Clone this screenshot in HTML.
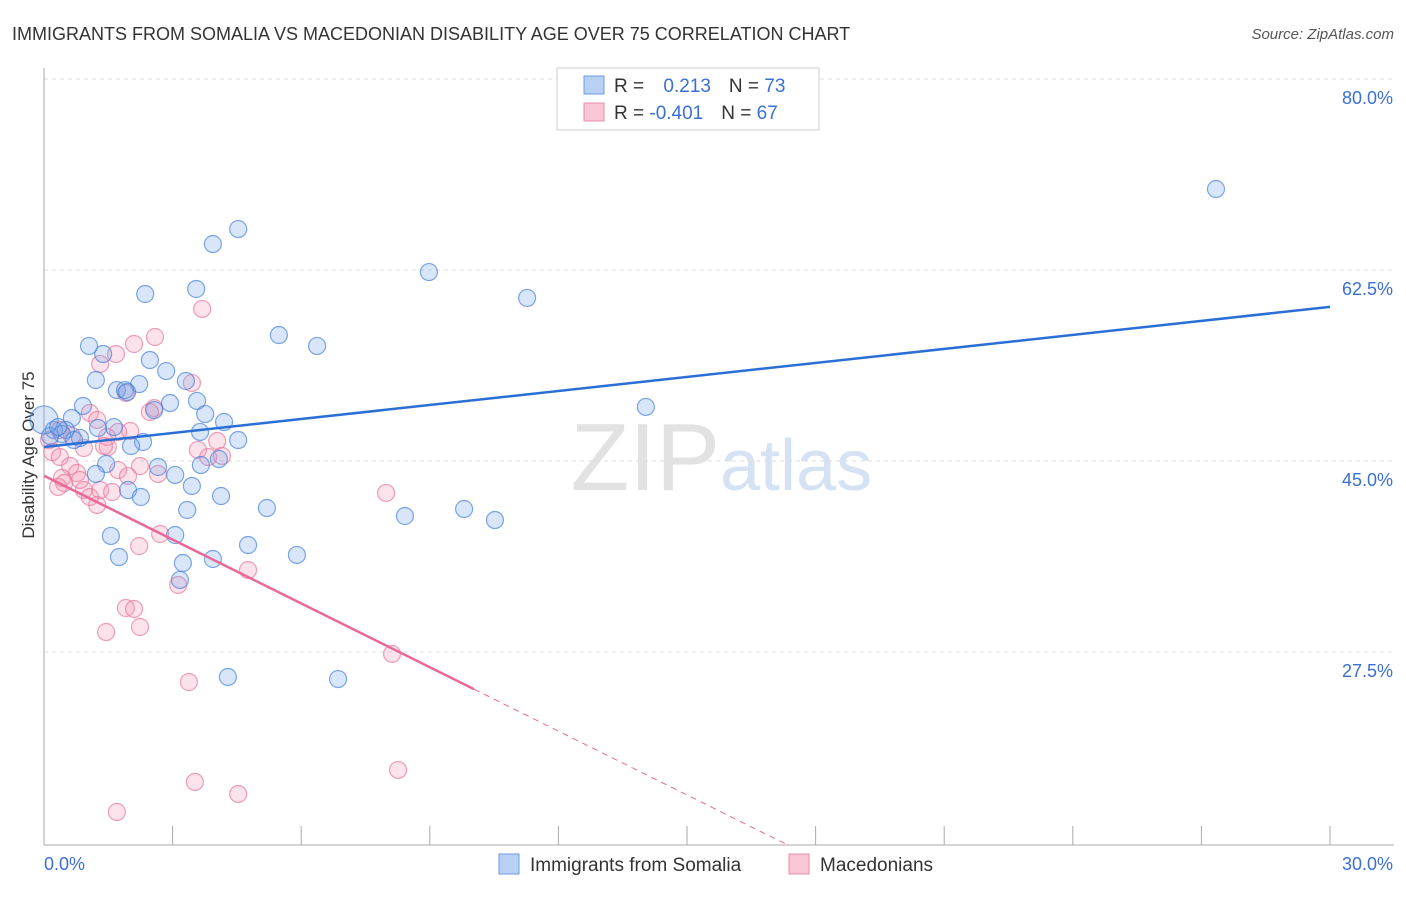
<!DOCTYPE html>
<html><head><meta charset="utf-8"><style>
body{margin:0;background:#fff;font-family:"Liberation Sans",sans-serif;}
svg text{font-family:"Liberation Sans",sans-serif;}
</style></head><body>
<svg id="chart" width="1406" height="892">
<text x="12" y="40" font-size="18" fill="#333">IMMIGRANTS FROM SOMALIA VS MACEDONIAN DISABILITY AGE OVER 75 CORRELATION CHART</text>
<text x="1394" y="39" font-size="15" fill="#555" font-style="italic" text-anchor="end">Source: ZipAtlas.com</text>
<text x="720" y="490" font-size="96" fill="#e2e2e2" text-anchor="end" font-family="Liberation Serif">ZIP</text>
<text x="720" y="490" font-size="72" fill="#d5e2f3">atlas</text>
<text x="34" y="455" font-size="17" fill="#333" text-anchor="middle" transform="rotate(-90 34 455)">Disability Age Over 75</text>
<g id="grid"></g><g id="axes"></g><g id="pts"></g><g id="trend"></g>
<g>
<rect x="557" y="68" width="262" height="62" fill="#fff" stroke="#ccc"/>
<rect x="584" y="76" width="20" height="18" fill="#b8d0f4" stroke="#6a9be0"/>
<rect x="584" y="103" width="20" height="18" fill="#f9c6d6" stroke="#ea8fad"/>
<text x="614" y="92" font-size="19" fill="#333">R = <tspan fill="#3a6fd8" dx="14">0.213</tspan><tspan dx="18">N = </tspan><tspan fill="#3a6fd8">73</tspan></text>
<text x="614" y="119" font-size="19" fill="#333">R = <tspan fill="#3a6fd8">-0.401</tspan><tspan dx="18">N = </tspan><tspan fill="#3a6fd8">67</tspan></text>
</g>
<g>
<rect x="499" y="854" width="20" height="20" fill="#b8d0f4" stroke="#6a9be0"/>
<text x="530" y="871" font-size="19" fill="#333">Immigrants from Somalia</text>
<rect x="789" y="854" width="20" height="20" fill="#f9c6d6" stroke="#ea8fad"/>
<text x="820" y="871" font-size="19" fill="#333">Macedonians</text>
</g>
</svg>
<script>
const blueX=[27.34,4.53,3.94,8.98,3.55,2.36,11.27,5.48,6.37,1.05,1.38,2.47,2.85,1.21,3.31,2.22,1.70,1.89,1.94,2.94,0.91,3.57,14.04,2.57,3.76,0.65,4.20,1.63,1.26,0.51,0.23,0.42,0.14,3.64,4.53,2.31,2.03,0.84,0.70,2.66,1.45,3.06,1.21,4.08,3.66,3.45,1.96,2.26,4.13,5.20,8.42,9.80,10.52,3.34,1.56,3.06,5.90,4.76,1.75,3.94,3.24,3.17,4.29,6.86,0.0,0.33];
const blueY=[71.57,67.90,66.53,63.96,62.41,61.95,61.59,58.19,57.19,57.19,56.45,55.90,54.89,54.07,53.98,53.70,53.15,53.15,52.97,51.96,51.69,52.15,51.60,51.32,50.95,50.59,50.22,49.76,49.67,49.49,49.49,49.12,48.94,49.31,48.57,48.39,48.02,48.76,48.57,46.10,46.37,45.37,45.46,46.83,46.28,44.36,43.99,43.35,43.44,42.34,41.61,42.25,41.24,42.16,39.78,39.87,38.04,38.95,37.85,37.67,37.30,35.75,26.86,26.67,50.41,49.76];
const pinkX=[2.59,2.10,1.68,1.31,3.69,3.45,1.91,2.57,1.07,1.24,1.73,1.47,0.37,0.12,0.19,0.37,0.61,0.93,1.49,1.73,2.24,0.77,0.42,0.47,0.33,0.93,1.31,1.59,1.24,1.07,0.84,2.01,4.04,3.59,3.83,4.15,2.66,2.71,2.22,7.98,4.76,3.13,1.91,2.10,2.24,1.45,8.12,3.38,3.52,4.53,8.26,1.70,2.47,1.40,1.96,0.65];
const pinkY=[58.01,57.37,56.45,55.54,60.58,53.80,52.88,51.50,51.05,50.41,49.31,48.85,49.49,48.57,47.47,47.01,46.19,47.84,47.93,45.82,46.19,45.55,45.09,44.63,44.27,43.99,43.99,43.81,42.62,43.35,44.91,49.40,48.48,47.66,47.01,47.11,45.46,39.96,38.86,43.72,36.66,35.29,33.18,33.09,31.44,30.98,28.97,26.40,17.24,16.14,18.34,14.49,51.14,48.02,45.27,48.94];
const yTicks=[80,62.5,45,27.5];
const yTickLabels=["80.0%","62.5%","45.0%","27.5%"];
const xTicks=[0,3,6,9,12,15,18,21,24,27,30];
const blueTrend=[47.93,0.428]; // intercept, slope
const pinkTrend=[45.3,-1.95];
const X=v=>44+v*42.867, Y=v=>97+(80-v)*10.914;
const NS="http://www.w3.org/2000/svg";
function mk(p,tag,at){const e=document.createElementNS(NS,tag);for(const k in at)e.setAttribute(k,at[k]);p.appendChild(e);return e;}
const grid=document.getElementById('grid'),axes=document.getElementById('axes'),pts=document.getElementById('pts'),tr=document.getElementById('trend');
yTicks.forEach((t,i)=>{
 const l=mk(grid,'line',{x1:44,x2:1394,y1:Y(t)-18,y2:Y(t)-18,stroke:'#ddd','stroke-dasharray':'4,4'});
 
 
 const tx=mk(grid,'text',{x:1393,y:Y(t)+7,'font-size':18,fill:'#3a6fd8','text-anchor':'end'});
 tx.textContent=yTickLabels[i];
 
 
});
const ya=mk(axes,'line',{x1:44,x2:44,y1:68,y2:845,stroke:'#aaa'});


const xa=mk(axes,'line',{x1:44,x2:1394,y1:845,y2:845,stroke:'#aaa'});


xTicks.forEach(t=>{const k=mk(axes,'line',{x1:X(t),x2:X(t),y1:826,y2:845,stroke:'#aaa'});
 
 });
const xl0=mk(axes,'text',{x:44,y:870,'font-size':18,fill:'#3a6fd8'});xl0.textContent='0.0%';


const xl1=mk(axes,'text',{x:1393,y:870,'font-size':18,fill:'#3a6fd8','text-anchor':'end'});xl1.textContent='30.0%';


pinkX.forEach((x,i)=>{const c=mk(pts,'circle',{cx:X(x),cy:Y(pinkY[i]),r:8.5,fill:'rgba(244,150,180,0.28)',stroke:'rgba(232,120,156,0.7)','stroke-width':1.2});
 
 });
blueX.forEach((x,i)=>{const c=mk(pts,'circle',{cx:X(x),cy:Y(blueY[i]),r:i==64?14:8.5,fill:'rgba(120,165,235,0.28)',stroke:'rgba(70,130,220,0.7)','stroke-width':1.2});
 
 });
const bl=mk(tr,'line',{x1:X(0),y1:Y(blueTrend[0]),x2:X(30),y2:Y(blueTrend[0]+30*blueTrend[1]),stroke:'#2a6fd6','stroke-width':2.5});


const xe=10.03, xEnd=(pinkTrend[0]-11.5)/-pinkTrend[1];
const pl=mk(tr,'line',{x1:X(0),y1:Y(pinkTrend[0]),x2:X(xe),y2:Y(pinkTrend[0]+xe*pinkTrend[1]),stroke:'#e8689a','stroke-width':2.5});


const pd=mk(tr,'line',{x1:X(xe),y1:Y(pinkTrend[0]+xe*pinkTrend[1]),x2:X(xEnd),y2:Y(11.5),stroke:'#e8689a','stroke-width':1,'stroke-dasharray':'6,5'});


</script>
</body></html>
